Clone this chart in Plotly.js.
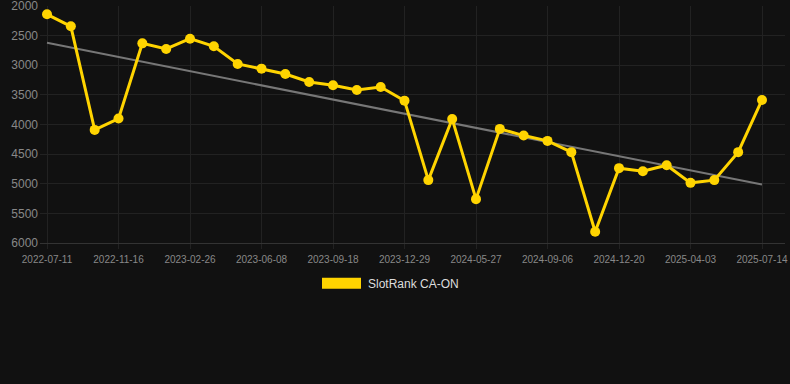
<!DOCTYPE html>
<html><head><meta charset="utf-8">
<script src="https://cdn.plot.ly/plotly-3.0.1.min.js"></script>
<style>html,body{margin:0;padding:0;background:#111111;}#chart{width:790px;height:384px;}</style>
</head><body><div id="chart"></div>
<script>
const dates = ["2022-07-11","2022-08-22","2022-10-04","2022-11-16","2022-12-20","2023-01-23","2023-02-26","2023-04-01","2023-05-05","2023-06-08","2023-07-12","2023-08-15","2023-09-18","2023-10-22","2023-11-25","2023-12-29","2024-02-18","2024-04-06","2024-05-27","2024-06-30","2024-08-03","2024-09-06","2024-10-10","2024-11-15","2024-12-20","2025-01-23","2025-02-27","2025-04-03","2025-05-07","2025-06-10","2025-07-14"];
const ranks = [2140,2342,4091,3900,2630,2725,2551,2680,2978,3057,3147,3282,3338,3417,3366,3597,4939,3906,5260,4074,4187,4277,4467,5811,4737,4788,4687,4985,4939,4467,3585];
const tickLabels = ["2022-07-11","2022-11-16","2023-02-26","2023-06-08","2023-09-18","2023-12-29","2024-05-27","2024-09-06","2024-12-20","2025-04-03","2025-07-14"];
const yTicks = [2000,2500,3000,3500,4000,4500,5000,5500,6000];
const seriesName = "SlotRank CA-ON";

// linear regression trend over index
const n = ranks.length;
let sx=0, sy=0, sxy=0, sxx=0;
ranks.forEach((v,i)=>{sx+=i; sy+=v; sxy+=i*v; sxx+=i*i;});
const slope = (n*sxy - sx*sy)/(n*sxx - sx*sx);
const icpt = (sy - slope*sx)/n;
const trend = ranks.map((v,i)=>icpt + slope*i);

const traces = [
  {x: dates, y: trend, type:'scatter', mode:'lines', line:{color:'#777777', width:2}, hoverinfo:'skip', showlegend:false},
  {x: dates, y: ranks, type:'scatter', mode:'lines+markers', name: seriesName,
   line:{color:'#FFD400', width:3}, marker:{color:'#FFD400', size:10}, showlegend:false, cliponaxis:false}
];
const layout = {
  width:790, height:384,
  paper_bgcolor:'#111111', plot_bgcolor:'#111111',
  margin:{l:40, r:5, t:6, b:141},
  font:{family:'"Liberation Sans", Arial, sans-serif', color:'#888888'},
  showlegend:false,
  xaxis:{type:'category', categoryorder:'array', categoryarray: dates,
    range:[-0.294, 30.965], tickvals: tickLabels, ticktext: tickLabels,
    showgrid:true, gridcolor:'#222222', gridwidth:1,
    ticks:'outside', ticklen:5, tickcolor:'#222222', ticklabelstandoff:2,
    tickfont:{size:10, color:'#888888'}, showline:true, linecolor:'#333333', zeroline:false, tickangle:0},
  yaxis:{range:[6000.5,1999.5], tickvals:yTicks, ticktext: yTicks.map(String),
    showgrid:true, gridcolor:'#222222', gridwidth:1, zeroline:false, showline:false,
    ticks:'', ticklabelstandoff:1, ticklabeloverflow:'allow', tickfont:{size:12, color:'#888888'}},
  shapes:[{type:'rect', xref:'paper', yref:'paper', x0:(322-40)/745, x1:(361-40)/745,
    y0:(243.3-289)/237.3, y1:(243.3-278)/237.3, fillcolor:'#FFD400', line:{width:0}}],
  annotations:[{xref:'paper', yref:'paper', x:(366-40)/745, y:(243.3-284)/237.3, xanchor:'left', yanchor:'middle',
    text: seriesName, showarrow:false, font:{size:12, color:'#dddddd'}}]
};
Plotly.newPlot('chart', traces, layout, {staticPlot:true, displayModeBar:false});
</script></body></html>
